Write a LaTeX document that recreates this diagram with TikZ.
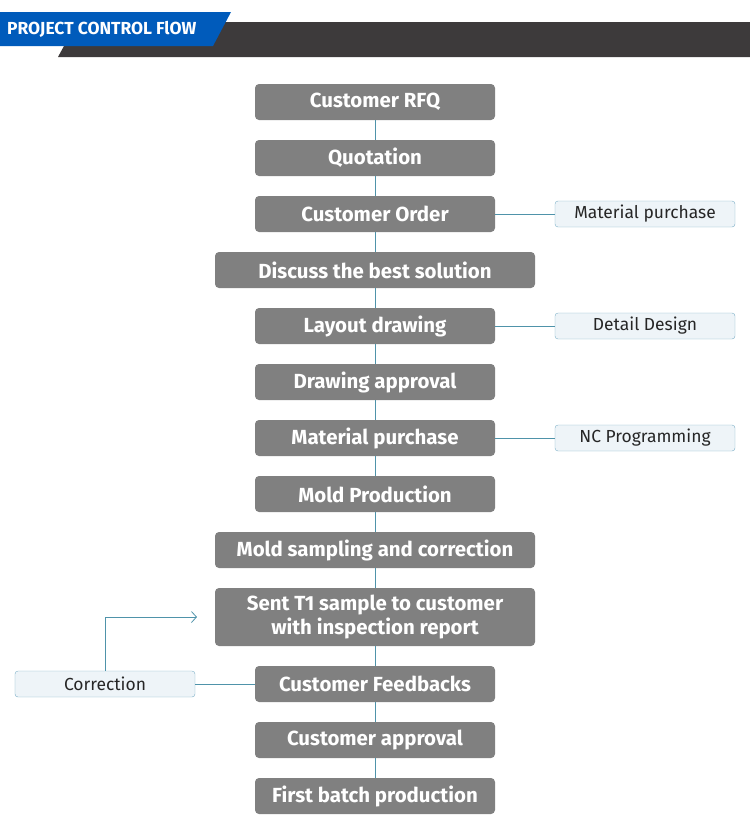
\documentclass[tikz,border=0pt]{standalone}
\usepackage{fontspec}
\setmainfont{Fira Sans}
\usepackage{tikz}
\usetikzlibrary{arrows.meta,positioning}
\definecolor{clStep}{HTML}{808080}
\definecolor{clLine}{HTML}{4F93AA}
\definecolor{clSide}{HTML}{EEF4F8}
\definecolor{clSideLine}{HTML}{7DB0C6}
\definecolor{clBanner}{HTML}{005BBB}
\definecolor{clBar}{HTML}{3D3A3B}
\tikzset{
  stepbox/.style={rectangle, rounded corners=4bp, fill=clStep, text=white, align=center,
                  inner sep=0pt, outer sep=0pt, minimum width=240bp, minimum height=36bp,
                  font=\fontsize{20.5}{24}\selectfont\bfseries},
  widebox/.style={stepbox, minimum width=320bp},
  sidebox/.style={rectangle, rounded corners=3bp, draw=clSideLine, fill=clSide, text=black!85,
                  inner sep=0pt, outer sep=0pt, minimum width=180bp, minimum height=26bp,
                  font=\fontsize{17.5}{20}\selectfont},
  link/.style={draw=clLine, line width=0.8pt},
  back/.style={link, -{Straight Barb[length=5pt,width=11pt,line width=0.8pt]}},
}
\begin{document}
\begin{tikzpicture}[x=1bp, y=1bp, node distance=20bp and 60bp]
  \useasboundingbox (0,0) rectangle (750,-830);
  % header
  \fill[clBar] (58,-57) -- (77,-22) -- (750,-22) -- (750,-57) -- cycle;
  \fill[clBanner] (0,-12) -- (231,-12) -- (213,-46) -- (0,-46) -- cycle;
  \node[anchor=west, text=white, inner sep=0pt, font=\fontsize{17.5}{20}\selectfont\bfseries]
    (title) at (7,-29) {PROJECT CONTROL FlOW};
  % main flow
  \node[stepbox] (rfq) at (375,-102) {Customer RFQ};
  \node[stepbox, below=of rfq] (quote) {Quotation};
  \node[stepbox, below=of quote] (order) {Customer Order};
  \node[widebox, below=of order] (discuss) {Discuss the best solution};
  \node[stepbox, below=of discuss] (layout) {Layout drawing};
  \node[stepbox, below=of layout] (approval) {Drawing approval};
  \node[stepbox, below=of approval] (purchase) {Material purchase};
  \node[stepbox, below=of purchase] (mold) {Mold Production};
  \node[widebox, below=of mold] (sampling) {Mold sampling and correction};
  \node[widebox, below=of sampling, minimum height=58bp] (sample) {Sent T1 sample to customer\\with inspection report};
  \node[stepbox, below=of sample] (feedback) {Customer Feedbacks};
  \node[stepbox, below=of feedback] (capproval) {Customer approval};
  \node[stepbox, below=of capproval] (batch) {First batch production};
  % side tasks
  \node[sidebox, right=of order] (sidemat) {Material purchase};
  \node[sidebox, right=of layout] (sidedesign) {Detail Design};
  \node[sidebox, right=of purchase] (sidenc) {NC Programming};
  \node[sidebox, left=of feedback] (correction) {Correction};
  \coordinate (backend) at (197,-617);
  % connectors
  \foreach \a/\b in {rfq/quote, quote/order, order/discuss, discuss/layout, layout/approval,
                     approval/purchase, purchase/mold, mold/sampling, sampling/sample,
                     sample/feedback, feedback/capproval, capproval/batch}
    \draw[link] (\a) -- (\b);
  \draw[link] (order) -- (sidemat);
  \draw[link] (layout) -- (sidedesign);
  \draw[link] (purchase) -- (sidenc);
  \draw[link] (feedback) -- (correction);
  \draw[back] (correction.north) |- (backend);
\end{tikzpicture}
\end{document}
